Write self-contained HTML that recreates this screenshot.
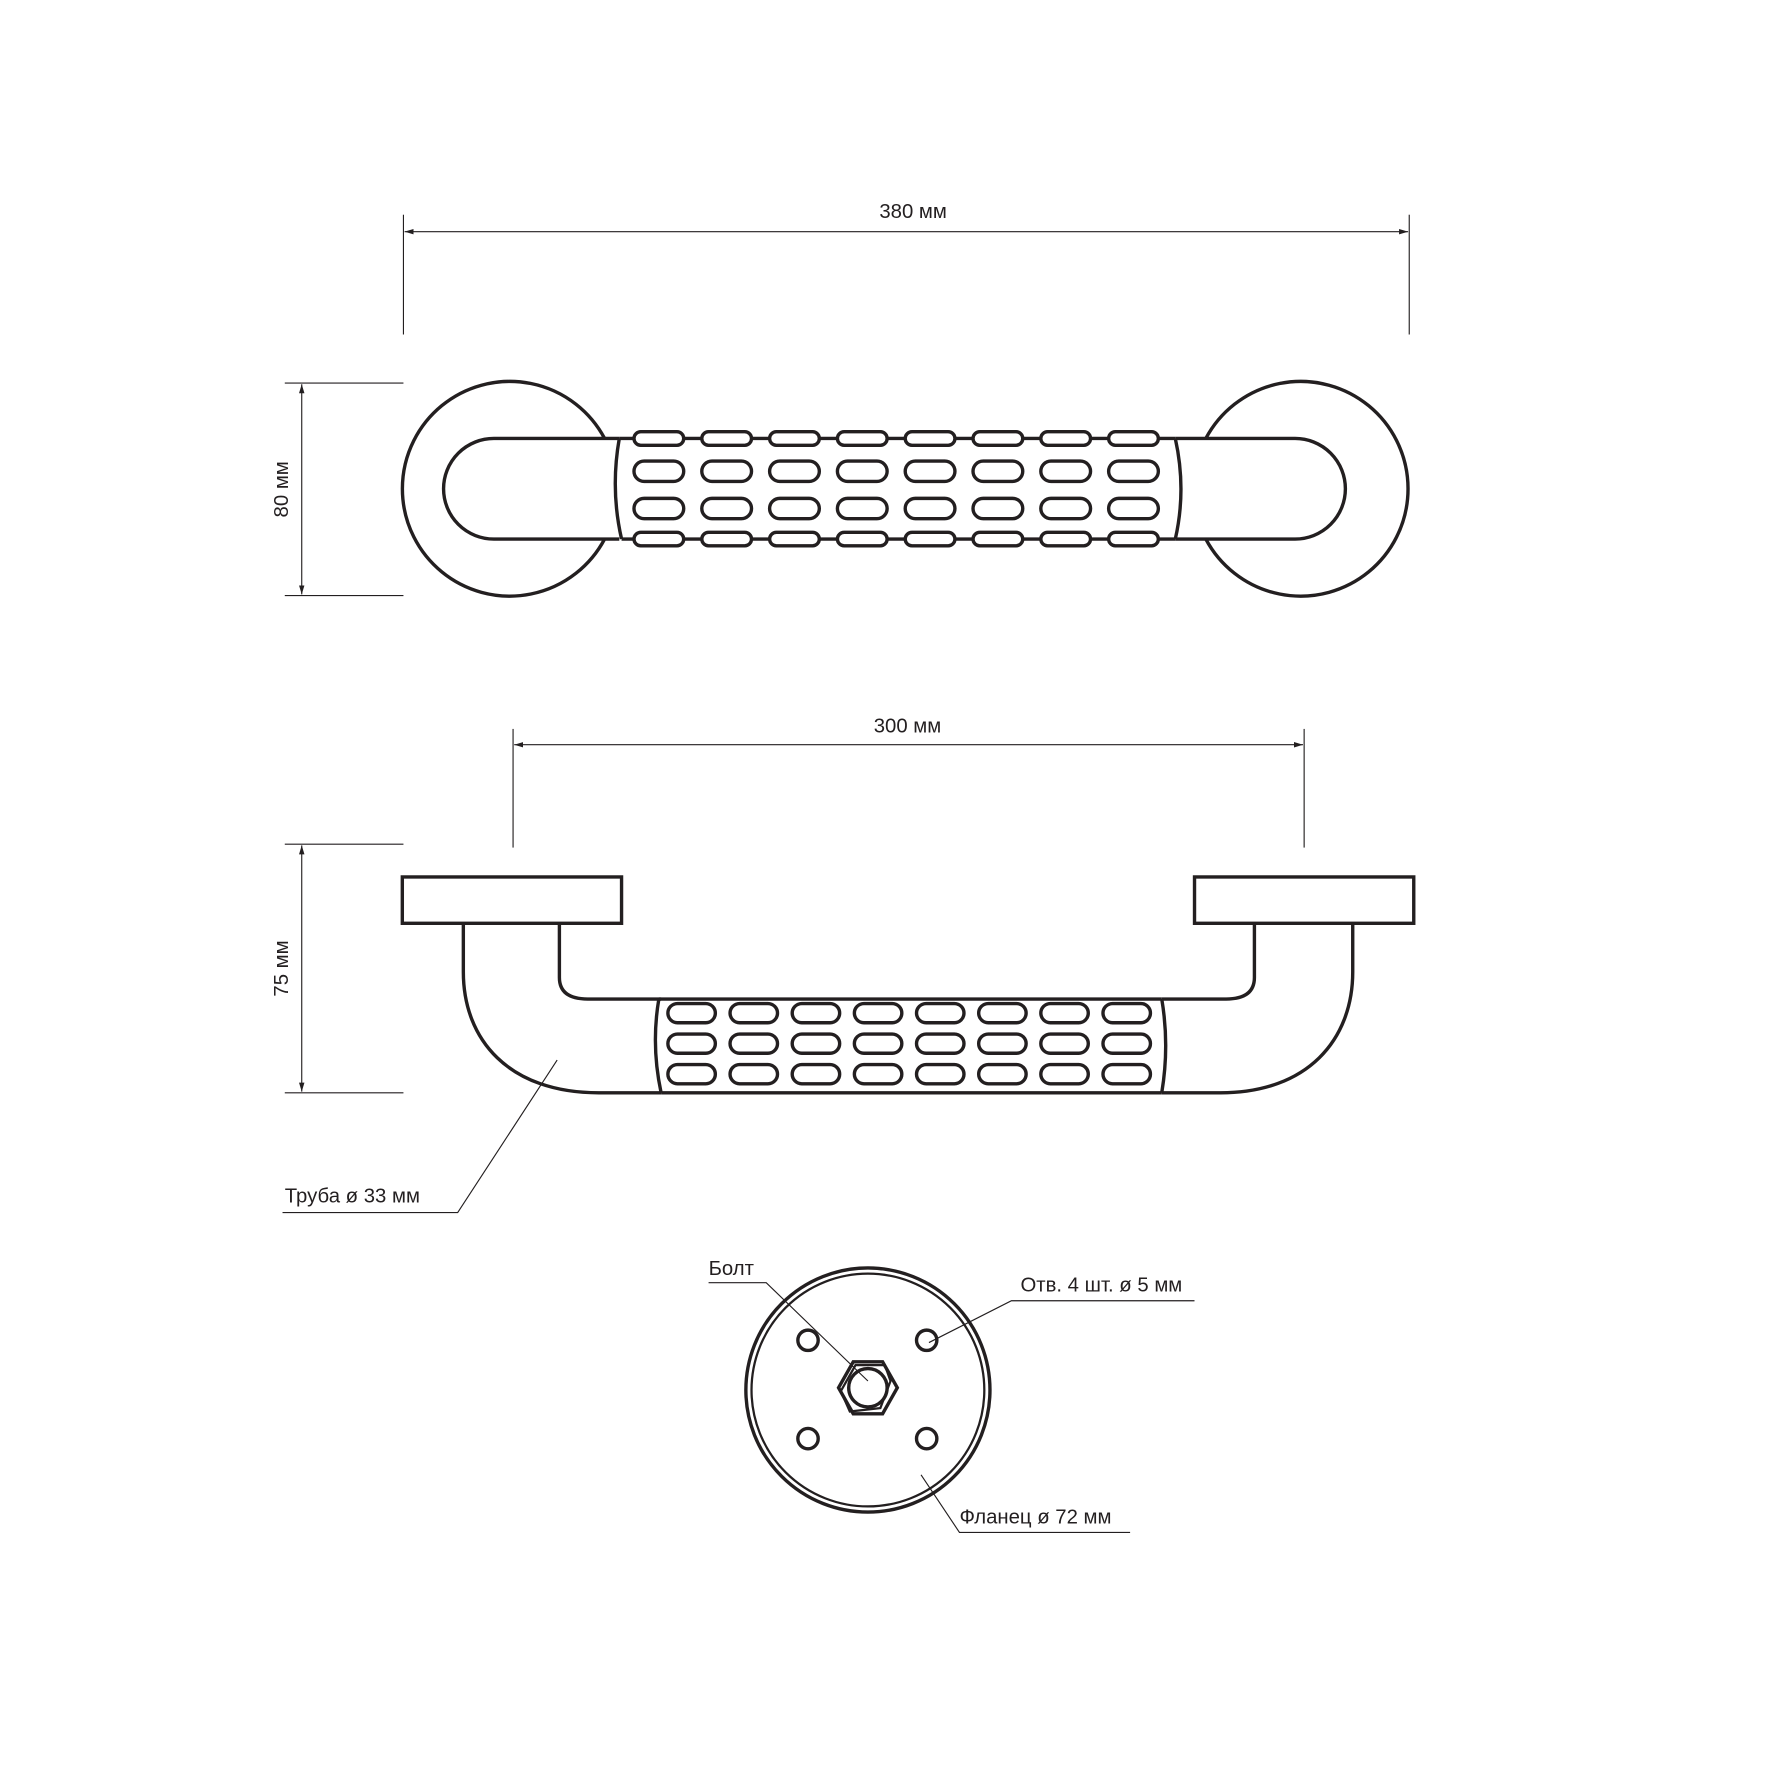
<!DOCTYPE html>
<html><head><meta charset="utf-8"><style>
html,body{margin:0;padding:0;background:#fff;}
svg{display:block;}
text{font-family:"Liberation Sans",sans-serif;font-size:18px;fill:#231f20;}
</style></head><body>
<svg width="1772" height="1772" viewBox="0 0 1568 1568" xmlns="http://www.w3.org/2000/svg">
<defs>
<marker id="a" viewBox="0 0 10 10" refX="10" refY="5" markerWidth="8" markerHeight="8" orient="auto-start-reverse"><path d="M0,2 L10,5 L0,8" fill="#231f20"/></marker>
</defs>
<g stroke="#231f20" fill="none">
<!-- dimension 380 -->
<g stroke-width="1">
<line x1="357" y1="190" x2="357" y2="296"/><line x1="1247" y1="190" x2="1247" y2="296"/>
<line x1="358" y1="205" x2="1246" y2="205" marker-start="url(#a)" marker-end="url(#a)"/>
<line x1="252" y1="339" x2="357" y2="339"/><line x1="252" y1="527" x2="357" y2="527"/>
<line x1="267" y1="340" x2="267" y2="526" marker-start="url(#a)" marker-end="url(#a)"/>
<line x1="454" y1="645" x2="454" y2="750"/><line x1="1154" y1="645" x2="1154" y2="750"/>
<line x1="455" y1="659" x2="1153" y2="659" marker-start="url(#a)" marker-end="url(#a)"/>
<line x1="252" y1="747" x2="357" y2="747"/><line x1="252" y1="967" x2="357" y2="967"/>
<line x1="267" y1="748" x2="267" y2="966" marker-start="url(#a)" marker-end="url(#a)"/>
<polyline points="493,938 405,1073 250,1073"/>
<polyline points="627,1135 678,1135 768,1222"/>
<polyline points="1057,1151 895,1151 822,1188"/>
<polyline points="1000,1356 849,1356 815,1305"/>
</g>
<g stroke-width="3">
<!-- top view -->
<path d="M535,388 A95,95 0 1 0 535,477"/>
<path d="M1067,388 A95,95 0 1 1 1067,477"/>
<path d="M548,388 H437 A44.5,44.5 0 0 0 437,477 H548"/>
<path d="M1040,388 H1146 A44.5,44.5 0 0 1 1146,477 H1040"/>
<path d="M548,388 Q540,433 550,477"/>
<path d="M1040,388 Q1050,433 1040,477"/>
<line x1="548" y1="388" x2="1040" y2="388"/>
<line x1="550" y1="477" x2="1040" y2="477"/>
<g fill="#fff">
<rect x="561" y="382" width="44" height="12" rx="6"/><rect x="621" y="382" width="44" height="12" rx="6"/><rect x="681" y="382" width="44" height="12" rx="6"/><rect x="741" y="382" width="44" height="12" rx="6"/><rect x="801" y="382" width="44" height="12" rx="6"/><rect x="861" y="382" width="44" height="12" rx="6"/><rect x="921" y="382" width="44" height="12" rx="6"/><rect x="981" y="382" width="44" height="12" rx="6"/>
<rect x="561" y="471" width="44" height="12" rx="6"/><rect x="621" y="471" width="44" height="12" rx="6"/><rect x="681" y="471" width="44" height="12" rx="6"/><rect x="741" y="471" width="44" height="12" rx="6"/><rect x="801" y="471" width="44" height="12" rx="6"/><rect x="861" y="471" width="44" height="12" rx="6"/><rect x="921" y="471" width="44" height="12" rx="6"/><rect x="981" y="471" width="44" height="12" rx="6"/>
</g>
<rect x="561" y="408" width="44" height="18" rx="9"/><rect x="621" y="408" width="44" height="18" rx="9"/><rect x="681" y="408" width="44" height="18" rx="9"/><rect x="741" y="408" width="44" height="18" rx="9"/><rect x="801" y="408" width="44" height="18" rx="9"/><rect x="861" y="408" width="44" height="18" rx="9"/><rect x="921" y="408" width="44" height="18" rx="9"/><rect x="981" y="408" width="44" height="18" rx="9"/>
<rect x="561" y="441" width="44" height="18" rx="9"/><rect x="621" y="441" width="44" height="18" rx="9"/><rect x="681" y="441" width="44" height="18" rx="9"/><rect x="741" y="441" width="44" height="18" rx="9"/><rect x="801" y="441" width="44" height="18" rx="9"/><rect x="861" y="441" width="44" height="18" rx="9"/><rect x="921" y="441" width="44" height="18" rx="9"/><rect x="981" y="441" width="44" height="18" rx="9"/>
<!-- side view -->
<rect x="356" y="776" width="194" height="41"/>
<rect x="1057" y="776" width="194" height="41"/>
<path d="M410,817 V860 C410,920 450,967 530,967 H585"/>
<path d="M495,817 V865 Q495,884 520,884 H585"/>
<path d="M1197,817 V860 C1197,920 1157,967 1080,967 H1028"/>
<path d="M1110,817 V865 Q1110,884 1085,884 H1028"/>
<path d="M583,884 Q576,925 585,967"/>
<path d="M1028,884 Q1035,925 1028,967"/>
<line x1="583" y1="884" x2="1028" y2="884"/>
<line x1="585" y1="967" x2="1028" y2="967"/>
<g>
<rect x="591" y="888" width="42" height="17" rx="8.5"/><rect x="646" y="888" width="42" height="17" rx="8.5"/><rect x="701" y="888" width="42" height="17" rx="8.5"/><rect x="756" y="888" width="42" height="17" rx="8.5"/><rect x="811" y="888" width="42" height="17" rx="8.5"/><rect x="866" y="888" width="42" height="17" rx="8.5"/><rect x="921" y="888" width="42" height="17" rx="8.5"/><rect x="976" y="888" width="42" height="17" rx="8.5"/>
<rect x="591" y="915" width="42" height="17" rx="8.5"/><rect x="646" y="915" width="42" height="17" rx="8.5"/><rect x="701" y="915" width="42" height="17" rx="8.5"/><rect x="756" y="915" width="42" height="17" rx="8.5"/><rect x="811" y="915" width="42" height="17" rx="8.5"/><rect x="866" y="915" width="42" height="17" rx="8.5"/><rect x="921" y="915" width="42" height="17" rx="8.5"/><rect x="976" y="915" width="42" height="17" rx="8.5"/>
<rect x="591" y="942" width="42" height="17" rx="8.5"/><rect x="646" y="942" width="42" height="17" rx="8.5"/><rect x="701" y="942" width="42" height="17" rx="8.5"/><rect x="756" y="942" width="42" height="17" rx="8.5"/><rect x="811" y="942" width="42" height="17" rx="8.5"/><rect x="866" y="942" width="42" height="17" rx="8.5"/><rect x="921" y="942" width="42" height="17" rx="8.5"/><rect x="976" y="942" width="42" height="17" rx="8.5"/>
</g>
<!-- flange -->
<circle cx="768" cy="1230" r="108"/>
<circle cx="768" cy="1230" r="103" stroke-width="2"/>
<circle cx="715" cy="1186" r="9"/><circle cx="820" cy="1186" r="9"/>
<circle cx="715" cy="1273" r="9"/><circle cx="820" cy="1273" r="9"/>
<polygon points="794,1228 781,1251 755,1251 742,1228 755,1205 781,1205"/>
<polygon points="788,1222 779,1246 752,1249 744,1231 757,1208 783,1208" stroke-width="2"/>
<circle cx="768" cy="1228" r="17"/>
</g>
</g>
<text x="808" y="193" text-anchor="middle">380 мм</text>
<text x="803" y="648" text-anchor="middle">300 мм</text>
<text transform="translate(255,433) rotate(-90)" text-anchor="middle">80 мм</text>
<text transform="translate(255,857) rotate(-90)" text-anchor="middle">75 мм</text>
<text x="252" y="1064">Труба ø 33 мм</text>
<text x="627" y="1128">Болт</text>
<text x="903" y="1143">Отв. 4 шт. ø 5 мм</text>
<text x="849" y="1348">Фланец ø 72 мм</text>
</svg>
</body></html>
